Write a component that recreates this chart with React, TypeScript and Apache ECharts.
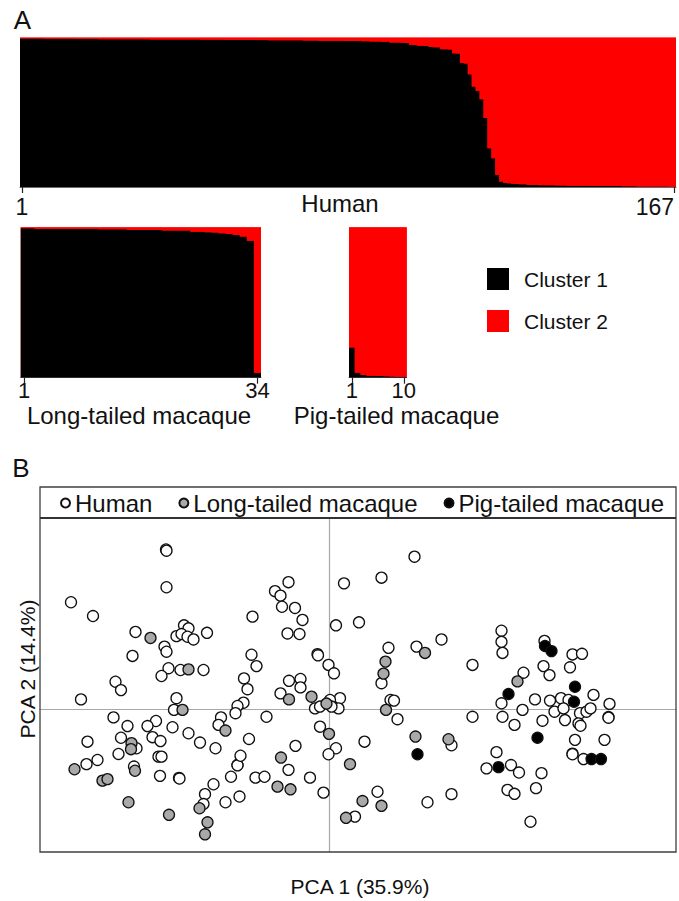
import React, { useEffect, useRef } from 'react';
import * as echarts from 'echarts';

const FONT = '"Liberation Sans", Arial, Helvetica, sans-serif';

// Panel A: cluster-1 membership (Q) per individual, sorted as in the figure
const humanQ = [
  0.994, 0.994, 0.993, 0.993, 0.993, 0.993, 0.992, 0.992, 0.992, 0.992,
  0.991, 0.991, 0.991, 0.991, 0.990, 0.990, 0.990, 0.990, 0.990, 0.990,
  0.989, 0.989, 0.989, 0.989, 0.989, 0.989, 0.988, 0.988, 0.988, 0.988,
  0.988, 0.988, 0.988, 0.987, 0.987, 0.987, 0.987, 0.987, 0.987, 0.987,
  0.986, 0.986, 0.986, 0.986, 0.986, 0.986, 0.985, 0.985, 0.985, 0.985,
  0.985, 0.985, 0.984, 0.984, 0.984, 0.984, 0.984, 0.984, 0.983, 0.983,
  0.983, 0.983, 0.983, 0.982, 0.982, 0.982, 0.982, 0.982, 0.981, 0.981,
  0.981, 0.981, 0.980, 0.980, 0.980, 0.980, 0.979, 0.979, 0.979, 0.978,
  0.978, 0.978, 0.977, 0.977, 0.977, 0.976, 0.976, 0.975, 0.975, 0.974,
  0.974, 0.973, 0.972, 0.971, 0.967, 0.966, 0.966, 0.965, 0.964, 0.952,
  0.950, 0.945, 0.944, 0.943, 0.936, 0.935, 0.934, 0.922, 0.921, 0.919,
  0.895, 0.893, 0.830, 0.826, 0.755, 0.672, 0.643, 0.587, 0.461, 0.260,
  0.193, 0.082, 0.037, 0.027, 0.025, 0.021, 0.020, 0.019, 0.018, 0.014,
  0.013, 0.013, 0.012, 0.012, 0.011, 0.011, 0.010, 0.010, 0.010, 0.009,
  0.009, 0.009, 0.008, 0.008, 0.008, 0.007, 0.007, 0.007, 0.007, 0.006,
  0.006, 0.006, 0.006, 0.005, 0.005, 0.005, 0.005, 0.004, 0.004, 0.004,
  0.004, 0.003, 0.003, 0.003, 0.003, 0.002, 0.002,
];

const longTailedQ = [
  0.993, 0.993, 0.989, 0.989, 0.989, 0.989, 0.989, 0.989, 0.989, 0.989,
  0.989, 0.987, 0.987, 0.987, 0.987, 0.982, 0.982, 0.982, 0.982, 0.982,
  0.978, 0.978, 0.978, 0.978, 0.971, 0.971, 0.967, 0.965, 0.960, 0.956,
  0.949, 0.938, 0.911, 0.033,
];

const pigTailedQ = [0.2, 0.033, 0.018, 0.013, 0.013, 0.012, 0.009, 0.008, 0.007, 0.007];

const clusterNames = ['Cluster 1', 'Cluster 2'];
const clusterColors = ['#000000', '#ff0000'];
const groupNames = ['Human', 'Long-tailed macaque', 'Pig-tailed macaque'];

// Panel B: PCA scores [PC1, PC2]
const humanPC: [number, number][] = [
  [-32.6, 53.2], [-32.5, 52.8], [-32.5, 40.6], [-51.6, 35.6], [-47.2, 31.0],
  [-38.7, 25.7], [-39.3, 17.7], [-29.0, 27.9], [-28.1, 26.9], [-30.5, 24.3],
  [-29.5, 25.0], [-28.3, 24.1], [-27.1, 23.2], [-24.4, 25.4], [-32.9, 20.8],
  [-32.5, 19.1], [-15.3, 30.8], [-8.1, 42.3], [-10.8, 39.3], [-9.7, 37.8],
  [-9.4, 34.1], [-6.8, 33.7], [-5.3, 29.7], [-8.3, 25.2], [-5.9, 25.0],
  [-15.5, 18.1], [-2.3, 18.3], [-2.2, 17.9], [3.0, 41.9], [1.4, 27.9],
  [17.1, 50.8], [10.5, 43.8], [6.0, 28.9], [11.9, 20.4], [17.5, 20.8],
  [22.5, 23.2], [34.5, 26.1], [34.5, 22.4], [34.7, 18.7], [43.1, 22.7],
  [48.7, 18.2], [50.6, 18.4], [-32.1, 13.6], [-33.5, 11.0], [-29.7, 13.0],
  [-25.1, 13.0], [-42.7, 9.1], [-41.6, 6.3], [-49.6, 3.2], [-30.5, 3.6],
  [-31.0, -0.3], [-17.0, 10.2], [-16.3, 6.6], [-14.5, 14.3], [-8.0, 9.4],
  [-5.7, 10.0], [-5.7, 7.2], [-9.7, 5.2], [-2.8, 0.2], [-1.8, 0.8],
  [-17.1, 2.1], [-18.3, 1.0], [-18.7, -1.4], [-12.5, -2.6], [-21.6, -2.8],
  [-22.1, -5.3], [-16.0, -10.0], [-22.7, -13.1], [-25.8, -11.2], [-28.1, -8.1],
  [-31.3, -6.1], [-34.6, -4.0], [-36.3, -5.7], [-35.3, -9.4], [-33.7, -10.7],
  [-40.3, -5.7], [-43.1, -2.8], [-41.6, -9.6], [-38.5, -13.1], [-42.1, -15.0],
  [-48.3, -10.9], [-34.1, -15.9], [-33.5, -15.9], [-46.3, -17.0], [-48.5, -18.4],
  [-39.0, -19.2], [-33.8, -22.3], [-30.0, -23.0], [-29.9, -23.2], [-23.1, -25.1],
  [-24.8, -28.4], [-25.1, -31.7], [-20.7, -31.1], [-17.9, -29.2], [-19.6, -22.6],
  [-18.3, -18.6], [-18.3, -18.8], [-17.7, -15.6], [-14.7, -22.9], [-12.9, -22.6],
  [-8.1, -20.3], [-6.7, -12.3], [-3.8, -22.9], [-1.8, -5.9], [-0.1, 14.7],
  [1.0, 11.9], [10.5, 8.6], [28.7, 14.7], [2.2, 3.6], [1.9, 0.2],
  [0.2, 3.0], [0.5, 0.8], [12.3, 3.0], [13.0, 2.8], [13.7, -3.4],
  [1.4, -13.1], [-0.1, -15.1], [7.1, -10.9], [24.5, -12.1], [28.7, -2.6],
  [-1.1, -27.9], [9.7, -27.6], [5.2, -35.9], [19.7, -31.1], [24.5, -28.4],
  [38.9, 12.1], [42.9, 14.3], [44.1, 11.3], [48.2, 13.9], [34.5, 1.9],
  [34.7, -2.6], [37.1, -5.3], [38.7, -0.3], [41.2, 3.2], [42.7, -3.9],
  [44.2, 2.8], [45.1, -0.9], [46.4, 3.6], [47.2, -3.7], [47.9, 3.0],
  [46.9, 0.2], [50.2, -1.4], [49.9, -4.8], [50.3, -5.6], [51.5, -0.9],
  [52.3, 0.2], [52.9, 4.7], [56.1, 1.7], [55.9, -2.7], [55.9, -2.9],
  [49.2, -10.3], [55.1, -10.3], [48.7, -14.9], [48.7, -15.1], [50.9, -16.7],
  [33.5, -14.4], [31.5, -19.8], [36.4, -18.7], [38.0, -21.2], [42.5, -21.4],
  [41.4, -26.4], [35.7, -27.0], [37.1, -28.3], [40.3, -37.6],
];

const longTailedPC: [number, number][] = [
  [-35.7, 23.7], [-28.1, 13.2], [11.3, 15.8], [10.9, 11.8], [19.2, 18.7],
  [37.7, 9.2], [-29.3, -0.3], [-8.0, 3.2], [-3.5, 4.1], [-0.5, 1.8],
  [-20.7, -7.2], [-39.5, -11.4], [-39.6, -13.4], [-50.9, -20.1], [-38.8, -20.6],
  [-45.3, -23.9], [-44.3, -23.4], [-25.9, -33.1], [-24.3, -37.8], [-24.8, -41.8],
  [-32.0, -35.3], [-40.1, -31.1], [-9.6, -16.2], [-10.3, -25.9], [-7.7, -26.8],
  [0.0, -8.3], [4.2, -18.4], [3.4, -36.3], [11.4, -0.3], [17.3, -9.2],
  [23.9, -10.1], [6.7, -30.7], [10.5, -32.3],
];

const pigTailedPC: [number, number][] = [
  [43.2, 21.0], [44.5, 19.3], [49.2, 7.4], [49.0, 2.4], [35.9, 5.0],
  [41.7, -9.6], [52.5, -16.7], [54.4, -16.7], [33.9, -19.4], [17.7, -15.1],
];

const pcaXName = 'PCA 1 (35.9%)';
const pcaYName = 'PCA 2 (14.4%)';

export default function App() {
  const ref = useRef<HTMLDivElement>(null);

  useEffect(() => {
    if (!ref.current) return;
    const chart = echarts.init(ref.current, null, { renderer: 'svg' });

    const barGroups = [
      { q: humanQ, grid: { left: 20, top: 37.5, width: 656, height: 149.5 }, labelMargin: 8, labelSize: 23 },
      { q: longTailedQ, grid: { left: 20.7, top: 227.3, width: 240.3, height: 150.4 }, labelMargin: 2, labelSize: 22 },
      { q: pigTailedQ, grid: { left: 349, top: 227.3, width: 57.7, height: 150.4 }, labelMargin: 2, labelSize: 22 },
    ];

    // red plot background hides anti-aliasing seams between the stacked cells
    const grids: any[] = barGroups.map((g) => ({
      ...g.grid,
      containLabel: false,
      show: true,
      backgroundColor: clusterColors[1],
      borderWidth: 0,
    }));
    grids.push({ left: 40, top: 518, width: 636, height: 334, containLabel: false });

    const xAxes: any[] = barGroups.map((g, i) => {
      const n = g.q.length;
      const show = (idx: number) => idx === 0 || idx === n - 1;
      return {
        type: 'category',
        gridIndex: i,
        data: g.q.map((_, k) => String(k + 1)),
        boundaryGap: true,
        axisLine: { show: true, lineStyle: { color: '#6a6a6a', width: 1 } },
        axisTick: {
          show: true,
          alignWithLabel: true,
          interval: show,
          length: 6,
          lineStyle: { color: '#222', width: 1.2 },
        },
        axisLabel: {
          show: true,
          interval: show,
          fontSize: g.labelSize,
          lineHeight: g.labelSize,
          fontFamily: FONT,
          color: '#111',
          margin: g.labelMargin,
          alignMaxLabel: i === 0 ? 'right' : undefined,
        },
        splitLine: { show: false },
      };
    });
    xAxes.push({
      type: 'value',
      gridIndex: 3,
      min: -57.8,
      max: 69.4,
      axisLine: { show: true, onZero: true, lineStyle: { color: '#a8a8a8', width: 1.2 } },
      axisTick: { show: false },
      axisLabel: { show: false },
      splitLine: { show: false },
    });

    const yAxes: any[] = barGroups.map((_, i) => ({
      type: 'value',
      gridIndex: i,
      min: 0,
      max: 1,
      show: false,
    }));
    yAxes.push({
      type: 'value',
      gridIndex: 3,
      min: -47.7,
      max: 63.7,
      axisLine: { show: true, onZero: true, lineStyle: { color: '#a8a8a8', width: 1.2 } },
      axisTick: { show: false },
      axisLabel: { show: false },
      splitLine: { show: false },
    });

    const series: any[] = [];
    barGroups.forEach((g, i) => {
      const c1 = g.q;
      const c2 = g.q.map((v) => Math.round((1 - v) * 1000) / 1000);
      [c1, c2].forEach((data, ci) => {
        series.push({
          type: 'bar',
          name: clusterNames[ci],
          xAxisIndex: i,
          yAxisIndex: i,
          stack: 'q' + i,
          data,
          barCategoryGap: '0%',
          barWidth: '100%',
          large: true,
          largeThreshold: 1,
          itemStyle: { color: clusterColors[ci] },
          emphasis: { disabled: true },
          silent: true,
        });
      });
    });

    const pcSets = [
      { name: groupNames[0], data: humanPC, fill: '#ffffff' },
      { name: groupNames[1], data: longTailedPC, fill: '#a9a9a9' },
      { name: groupNames[2], data: pigTailedPC, fill: '#000000' },
    ];
    pcSets.forEach((s, k) => {
      series.push({
        type: 'scatter',
        name: s.name,
        xAxisIndex: 3,
        yAxisIndex: 3,
        data: s.data,
        symbol: 'circle',
        symbolSize: 11,
        z: 3 + k,
        itemStyle: { color: s.fill, borderColor: '#111', borderWidth: 1.3, opacity: 1 },
        emphasis: { disabled: true },
        silent: true,
      });
    });

    const text = (
      str: string,
      x: number,
      y: number,
      size: number,
      align: string = 'center',
      rotation = 0
    ) => ({
      type: 'text',
      x,
      y,
      rotation,
      z: 50,
      silent: true,
      style: {
        text: str,
        fontSize: size,
        fontFamily: FONT,
        fill: '#111',
        align,
        verticalAlign: 'middle',
      },
    });

    const option: any = {
      animation: false,
      backgroundColor: '#ffffff',
      textStyle: { fontFamily: FONT },
      grid: grids,
      xAxis: xAxes,
      yAxis: yAxes,
      legend: [
        {
          data: clusterNames,
          orient: 'vertical',
          left: 487,
          top: 268,
          padding: 0,
          itemWidth: 22,
          itemHeight: 22,
          itemGap: 20,
          icon: 'rect',
          selectedMode: false,
          textStyle: { fontSize: 21, fontFamily: FONT, color: '#111', padding: [0, 0, 0, 10] },
        },
        {
          data: groupNames,
          orient: 'horizontal',
          left: 60,
          top: 491,
          padding: 0,
          itemWidth: 9,
          itemHeight: 9,
          itemGap: 26,
          icon: 'circle',
          selectedMode: false,
          textStyle: { fontSize: 24, fontFamily: FONT, color: '#111' },
        },
      ],
      graphic: [
        text('A', 22.5, 20, 26),
        text('B', 21, 468, 26),
        text(groupNames[0], 340, 203, 24),
        text(groupNames[1], 139, 415, 24),
        text(groupNames[2], 396.5, 415, 24),
        {
          type: 'rect',
          z: 40,
          silent: true,
          shape: { x: 40, y: 487, width: 636, height: 365 },
          style: { fill: 'none', stroke: '#404040', lineWidth: 1.3 },
        },
        {
          type: 'line',
          z: 40,
          silent: true,
          shape: { x1: 40, y1: 518, x2: 676, y2: 518 },
          style: { stroke: '#333', lineWidth: 2 },
        },
        text(pcaXName, 360, 886, 21),
        text(pcaYName, 27, 669, 21, 'center', Math.PI / 2),
      ],
      series,
    };

    chart.setOption(option);
    return () => chart.dispose();
  }, []);

  return (
    <div
      ref={ref}
      style={{ position: 'absolute', left: 0, top: 0, width: 679, height: 901, background: '#fff' }}
    />
  );
}
